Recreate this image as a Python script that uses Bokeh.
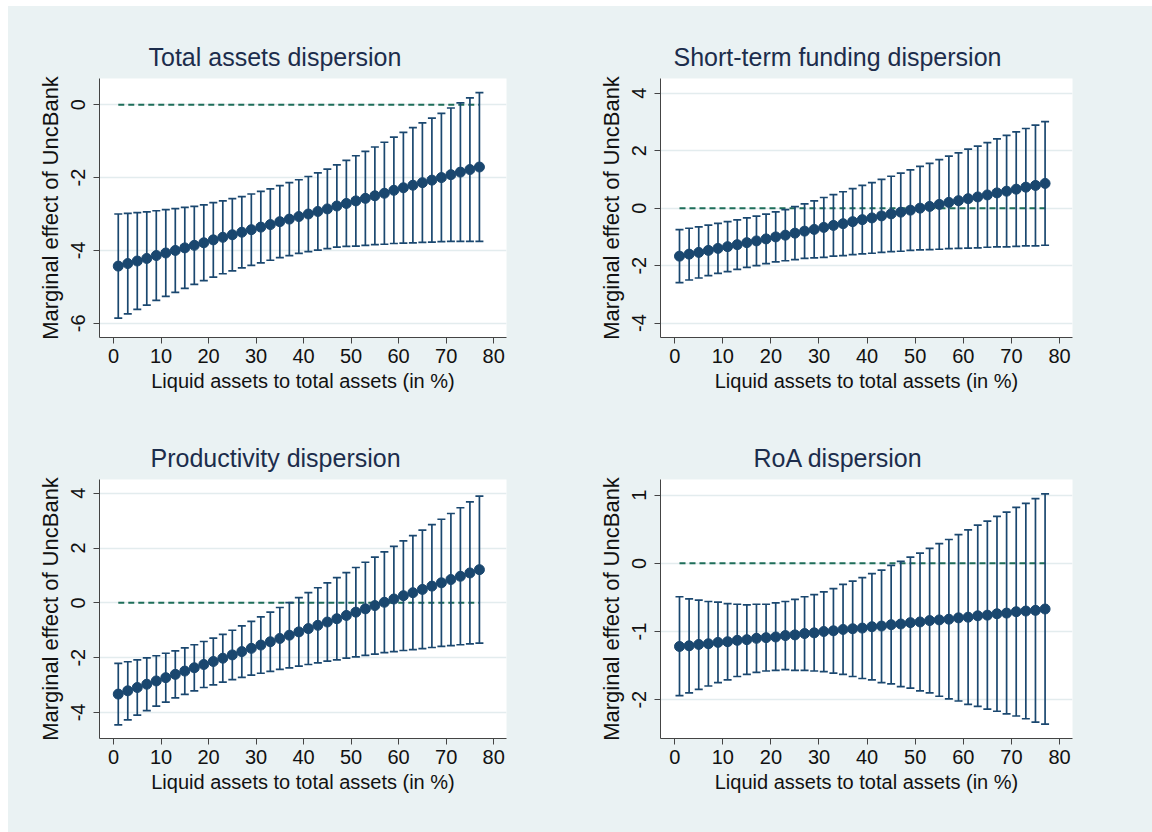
from bokeh.plotting import figure
from bokeh.models import ColumnDataSource, Whisker, TeeHead, Title, FixedTicker, Range1d, Spacer
from bokeh.layouts import column, row
from bokeh.embed import file_html
from bokeh.resources import INLINE

# ---------------- data ----------------
liquid = [1, 3, 5, 7, 9, 11, 13, 15, 17, 19, 21, 23, 25, 27, 29, 31, 33, 35, 37, 39,
          41, 43, 45, 47, 49, 51, 53, 55, 57, 59, 61, 63, 65, 67, 69, 71, 73, 75, 77]

titles = ["Total assets dispersion", "Short-term funding dispersion",
          "Productivity dispersion", "RoA dispersion"]

ta_mean = [-4.43, -4.36, -4.29, -4.22, -4.14, -4.07, -4.00, -3.93, -3.86, -3.79,
           -3.71, -3.64, -3.57, -3.50, -3.43, -3.36, -3.29, -3.21, -3.14, -3.07,
           -3.00, -2.93, -2.86, -2.78, -2.71, -2.64, -2.57, -2.50, -2.43, -2.35,
           -2.28, -2.21, -2.14, -2.07, -2.00, -1.92, -1.85, -1.78, -1.71]
ta_upper = [-3.00, -2.98, -2.96, -2.94, -2.91, -2.88, -2.85, -2.82, -2.79, -2.75,
            -2.69, -2.64, -2.58, -2.52, -2.45, -2.38, -2.31, -2.22, -2.14, -2.06,
            -1.97, -1.87, -1.77, -1.65, -1.53, -1.40, -1.28, -1.16, -1.03, -0.89,
            -0.76, -0.63, -0.50, -0.37, -0.24, -0.09, 0.05, 0.19, 0.33]
ta_lower = [-5.86, -5.74, -5.62, -5.50, -5.37, -5.26, -5.15, -5.04, -4.93, -4.83,
            -4.73, -4.64, -4.56, -4.48, -4.41, -4.34, -4.27, -4.20, -4.14, -4.08,
            -4.03, -3.99, -3.95, -3.91, -3.89, -3.88, -3.86, -3.84, -3.83, -3.81,
            -3.80, -3.79, -3.78, -3.77, -3.76, -3.75, -3.75, -3.75, -3.75]

sf_mean = [-1.67, -1.60, -1.54, -1.47, -1.40, -1.34, -1.27, -1.20, -1.14, -1.07,
           -1.00, -0.94, -0.87, -0.80, -0.74, -0.67, -0.60, -0.54, -0.47, -0.40,
           -0.34, -0.27, -0.20, -0.14, -0.07, 0.00, 0.06, 0.13, 0.20, 0.26,
           0.33, 0.39, 0.46, 0.53, 0.59, 0.66, 0.73, 0.79, 0.86]
sf_upper = [-0.75, -0.70, -0.65, -0.59, -0.53, -0.47, -0.41, -0.34, -0.28, -0.21,
            -0.13, -0.05, 0.05, 0.15, 0.25, 0.37, 0.47, 0.57, 0.68, 0.79,
            0.89, 1.00, 1.11, 1.22, 1.33, 1.45, 1.56, 1.69, 1.81, 1.92,
            2.05, 2.16, 2.28, 2.41, 2.53, 2.65, 2.77, 2.89, 3.01]
sf_lower = [-2.59, -2.50, -2.43, -2.35, -2.27, -2.21, -2.13, -2.06, -2.00, -1.93,
            -1.87, -1.83, -1.79, -1.75, -1.73, -1.71, -1.67, -1.65, -1.62, -1.59,
            -1.57, -1.54, -1.51, -1.50, -1.47, -1.45, -1.44, -1.43, -1.41, -1.40,
            -1.39, -1.38, -1.36, -1.35, -1.35, -1.33, -1.31, -1.31, -1.29]

pr_mean = [-3.33, -3.21, -3.09, -2.97, -2.85, -2.73, -2.61, -2.49, -2.37, -2.25,
           -2.14, -2.02, -1.90, -1.78, -1.66, -1.54, -1.42, -1.30, -1.18, -1.06,
           -0.94, -0.82, -0.70, -0.58, -0.46, -0.34, -0.22, -0.10, 0.02, 0.14,
           0.26, 0.37, 0.49, 0.61, 0.73, 0.85, 0.97, 1.09, 1.21]
pr_upper = [-2.21, -2.15, -2.08, -2.01, -1.93, -1.84, -1.75, -1.64, -1.53, -1.41,
            -1.29, -1.15, -1.00, -0.84, -0.68, -0.51, -0.34, -0.17, 0.01, 0.19,
            0.37, 0.55, 0.73, 0.92, 1.10, 1.29, 1.48, 1.67, 1.86, 2.06,
            2.26, 2.45, 2.65, 2.85, 3.05, 3.26, 3.47, 3.68, 3.89]
pr_lower = [-4.45, -4.27, -4.10, -3.93, -3.77, -3.62, -3.47, -3.34, -3.21, -3.09,
            -2.99, -2.89, -2.80, -2.72, -2.64, -2.57, -2.50, -2.43, -2.37, -2.31,
            -2.25, -2.19, -2.13, -2.08, -2.02, -1.97, -1.92, -1.87, -1.82, -1.78,
            -1.74, -1.71, -1.67, -1.63, -1.59, -1.56, -1.53, -1.50, -1.47]

ro_mean = [-1.22, -1.21, -1.19, -1.18, -1.16, -1.15, -1.13, -1.12, -1.10, -1.09,
           -1.08, -1.06, -1.05, -1.03, -1.02, -1.00, -0.99, -0.97, -0.96, -0.95,
           -0.93, -0.92, -0.90, -0.89, -0.87, -0.86, -0.84, -0.83, -0.82, -0.80,
           -0.79, -0.77, -0.76, -0.74, -0.73, -0.71, -0.70, -0.69, -0.67]
ro_upper = [-0.49, -0.52, -0.54, -0.56, -0.57, -0.59, -0.60, -0.61, -0.60, -0.60,
            -0.58, -0.56, -0.53, -0.49, -0.46, -0.42, -0.37, -0.31, -0.26, -0.21,
            -0.15, -0.10, -0.03, 0.03, 0.09, 0.15, 0.22, 0.29, 0.35, 0.42,
            0.49, 0.56, 0.62, 0.69, 0.75, 0.82, 0.88, 0.95, 1.02]
ro_lower = [-1.94, -1.90, -1.85, -1.80, -1.75, -1.71, -1.66, -1.63, -1.60, -1.58,
            -1.57, -1.56, -1.57, -1.57, -1.58, -1.59, -1.61, -1.63, -1.66, -1.69,
            -1.71, -1.75, -1.77, -1.81, -1.83, -1.87, -1.90, -1.95, -1.99, -2.02,
            -2.07, -2.10, -2.14, -2.17, -2.21, -2.24, -2.28, -2.33, -2.36]

x_ticks = [0, 10, 20, 30, 40, 50, 60, 70, 80]
ta_ticks = [-6, -4, -2, 0]
sf_ticks = [-4, -2, 0, 2, 4]
pr_ticks = [-4, -2, 0, 2, 4]
ro_ticks = [-2, -1, 0, 1]

x_label = "Liquid assets to total assets (in %)"
y_label = "Marginal effect of UncBank"

# ---------------- style ----------------
BG = "#EAF2F3"
NAVY = "#1A476F"
GREEN = "#1E6E5A"
FONT = "Liberation Sans"


def make_panel(title, title_offset, mean, upper, lower, yr, yticks, width, height,
               b_left, b_right, b_top, b_bottom):
    p = figure(width=width, height=height, output_backend="svg",
               toolbar_location=None, x_range=Range1d(-2.95, 82.7),
               y_range=Range1d(*yr), min_border_left=b_left,
               min_border_right=b_right, min_border_top=b_top,
               min_border_bottom=b_bottom)
    p.border_fill_color = BG
    p.background_fill_color = "white"
    p.outline_line_color = None

    t = Title(text=title, align="left", offset=title_offset, text_font=FONT,
              text_font_size="25px", text_font_style="normal",
              text_color="#1C2D4C", standoff=16)
    p.add_layout(t, "above")

    src = ColumnDataSource(dict(x=liquid, m=mean, up=upper, lo=lower))
    p.line(x=[liquid[0], liquid[-1]], y=[0, 0], line_color=GREEN,
           line_width=2, line_dash="6 4")
    w = Whisker(source=src, base="x", upper="up", lower="lo",
                line_color=NAVY, line_width=1.7,
                upper_head=TeeHead(size=8, line_color=NAVY, line_width=1.7),
                lower_head=TeeHead(size=8, line_color=NAVY, line_width=1.7),
                level="glyph")
    p.add_layout(w)
    p.scatter(x="x", y="m", source=src, size=10, fill_color=NAVY,
              line_color=NAVY)

    p.xaxis.ticker = FixedTicker(ticks=x_ticks)
    p.yaxis.ticker = FixedTicker(ticks=yticks)
    p.yaxis.major_label_overrides = {t: str(t) for t in yticks}
    for ax in (p.xaxis, p.yaxis):
        ax.axis_line_color = "#444444"
        ax.axis_line_width = 1
        ax.major_tick_line_color = "#444444"
        ax.major_tick_out = 6
        ax.major_tick_in = 0
        ax.minor_tick_line_color = None
        ax.major_label_text_font = FONT
        ax.major_label_text_font_size = "20px"
        ax.major_label_text_color = "#111111"
        ax.axis_label_text_font = FONT
        ax.axis_label_text_font_style = "normal"
        ax.axis_label_text_color = "#111111"
    p.xaxis.axis_label = x_label
    p.xaxis.axis_label_text_font_size = "20px"
    p.xaxis.major_label_standoff = 5
    p.xaxis.axis_label_standoff = 4
    p.yaxis.axis_label = y_label
    p.yaxis.axis_label_text_font_size = "22px"
    p.yaxis.major_label_orientation = "vertical"
    p.yaxis.major_label_standoff = 8
    p.yaxis.axis_label_standoff = 6
    p.xgrid.grid_line_color = None
    p.ygrid.grid_line_color = "#E3ECEE"
    p.ygrid.grid_line_width = 1.5
    p.ygrid.ticker = FixedTicker(ticks=yticks)
    return p


p1 = make_panel(titles[0], 49, ta_mean, ta_upper, ta_lower, (-6.39, 0.72), ta_ticks,
                570, 412, 91, 72, 72, 81)
p2 = make_panel(titles[1], 13, sf_mean, sf_upper, sf_lower, (-4.5, 4.51), sf_ticks,
                574, 412, 82, 80, 72, 81)
p3 = make_panel(titles[2], 51, pr_mean, pr_upper, pr_lower, (-4.95, 4.5), pr_ticks,
                570, 414, 91, 72, 61, 94)
p4 = make_panel(titles[3], 93, ro_mean, ro_upper, ro_lower, (-2.57, 1.23), ro_ticks,
                574, 414, 82, 80, 61, 94)

grid = column(row(p1, p2), row(p3, p4), styles={"background-color": BG})
layout = column(Spacer(height=6), row(Spacer(width=8), grid))
open("out.html", "w").write(file_html(layout, INLINE))
